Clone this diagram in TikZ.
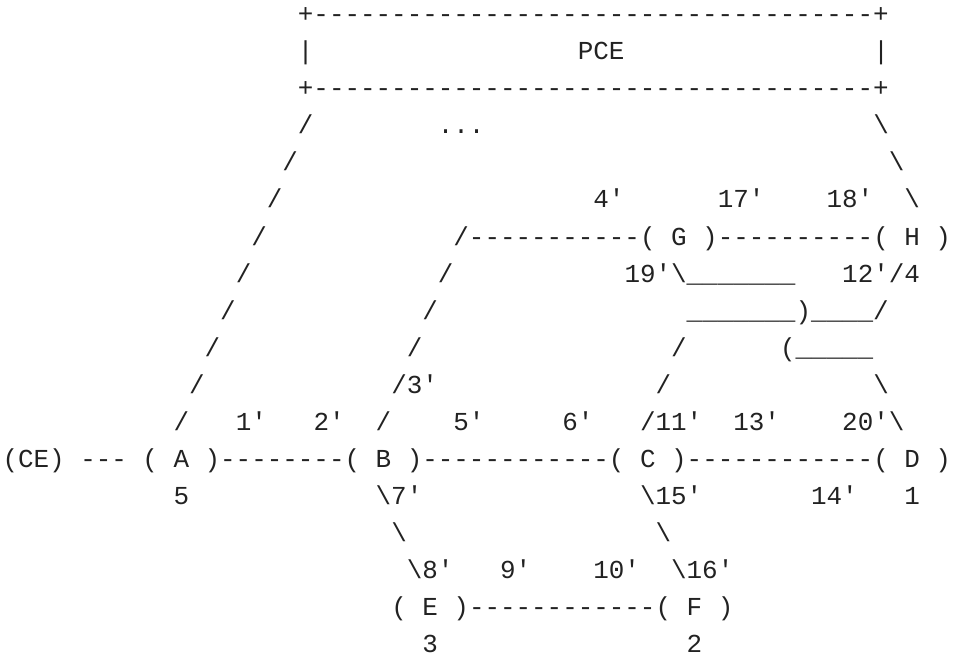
\documentclass[tikz,border=0pt]{standalone}
\usepackage{fontspec}
\newfontfamily\ascfont{Liberation Mono}
\definecolor{asctext}{RGB}{34,34,34}
\ExplSyntaxOn
\cs_new:Npn \ascrep #1#2 { \prg_replicate:nn {#1} {#2} }
\ExplSyntaxOff
\newcommand\ascbs{\textbackslash}
\newcommand\ascus{\textunderscore}
% name, column, line, text
\newcommand\ascput[4]{\node[asc] (#1) at ({2.5+#2*15.55},{23+(#3-1)*37}) {#4};}
\begin{document}
\begin{tikzpicture}[x=0.75pt,y=-0.75pt,
  asc/.style={anchor=base west, inner sep=0pt, outer sep=0pt, text=asctext,
    font=\ascfont\fontsize{19.43pt}{20pt}\selectfont\frenchspacing}]
\useasboundingbox (0,0) rectangle (953,656);
% PCE box
\ascput{pcetop}{19}{1}{+\ascrep{36}{-}+}
\ascput{pcel}{19}{2}{|}
\ascput{pce}{37}{2}{PCE}
\ascput{pcer}{56}{2}{|}
\ascput{pcebot}{19}{3}{+\ascrep{36}{-}+}
% line 4
\ascput{a4}{19}{4}{/}
\ascput{dots}{28}{4}{...}
\ascput{h4}{56}{4}{\ascbs}
% line 5
\ascput{a5}{18}{5}{/}
\ascput{h5}{57}{5}{\ascbs}
% line 6
\ascput{a6}{17}{6}{/}
\ascput{l4}{38}{6}{4'}
\ascput{l17}{46}{6}{17'}
\ascput{l18}{53}{6}{18'}
\ascput{h6}{58}{6}{\ascbs}
% line 7
\ascput{a7}{16}{7}{/}
\ascput{bg7}{29}{7}{/\ascrep{11}{-}}
\ascput{G}{41}{7}{( G )}
\ascput{gh}{46}{7}{\ascrep{10}{-}}
\ascput{H}{56}{7}{( H )}
% line 8
\ascput{a8}{15}{8}{/}
\ascput{bg8}{28}{8}{/}
\ascput{l19}{40}{8}{19'\ascbs\ascrep{7}{\ascus}}
\ascput{l12}{54}{8}{12'/4}
% line 9
\ascput{a9}{14}{9}{/}
\ascput{bg9}{27}{9}{/}
\ascput{gd9}{44}{9}{\ascrep{7}{\ascus})\ascrep{4}{\ascus}/}
% line 10
\ascput{a10}{13}{10}{/}
\ascput{bg10}{26}{10}{/}
\ascput{cg10}{43}{10}{/}
\ascput{hd10}{50}{10}{(\ascrep{5}{\ascus}}
% line 11
\ascput{a11}{12}{11}{/}
\ascput{l3}{25}{11}{/3'}
\ascput{cg11}{42}{11}{/}
\ascput{hd11}{56}{11}{\ascbs}
% line 12
\ascput{a12}{11}{12}{/}
\ascput{l1}{15}{12}{1'}
\ascput{l2}{20}{12}{2'}
\ascput{bg12}{24}{12}{/}
\ascput{l5}{29}{12}{5'}
\ascput{l6}{36}{12}{6'}
\ascput{l11}{41}{12}{/11'}
\ascput{l13}{47}{12}{13'}
\ascput{l20}{54}{12}{20'\ascbs}
% line 13
\ascput{CE}{0}{13}{(CE)}
\ascput{cea}{5}{13}{---}
\ascput{A}{9}{13}{( A )}
\ascput{ab}{14}{13}{\ascrep{8}{-}}
\ascput{B}{22}{13}{( B )}
\ascput{bc}{27}{13}{\ascrep{12}{-}}
\ascput{C}{39}{13}{( C )}
\ascput{cd}{44}{13}{\ascrep{12}{-}}
\ascput{D}{56}{13}{( D )}
% line 14
\ascput{w5}{11}{14}{5}
\ascput{l7}{24}{14}{\ascbs7'}
\ascput{l15}{41}{14}{\ascbs15'}
\ascput{l14}{52}{14}{14'}
\ascput{w1}{58}{14}{1}
% line 15
\ascput{be15}{25}{15}{\ascbs}
\ascput{cf15}{42}{15}{\ascbs}
% line 16
\ascput{l8}{26}{16}{\ascbs8'}
\ascput{l9}{32}{16}{9'}
\ascput{l10}{38}{16}{10'}
\ascput{l16}{43}{16}{\ascbs16'}
% line 17
\ascput{E}{25}{17}{( E )}
\ascput{ef}{30}{17}{\ascrep{12}{-}}
\ascput{F}{42}{17}{( F )}
% line 18
\ascput{w3}{27}{18}{3}
\ascput{w2}{44}{18}{2}
\end{tikzpicture}
\end{document}
